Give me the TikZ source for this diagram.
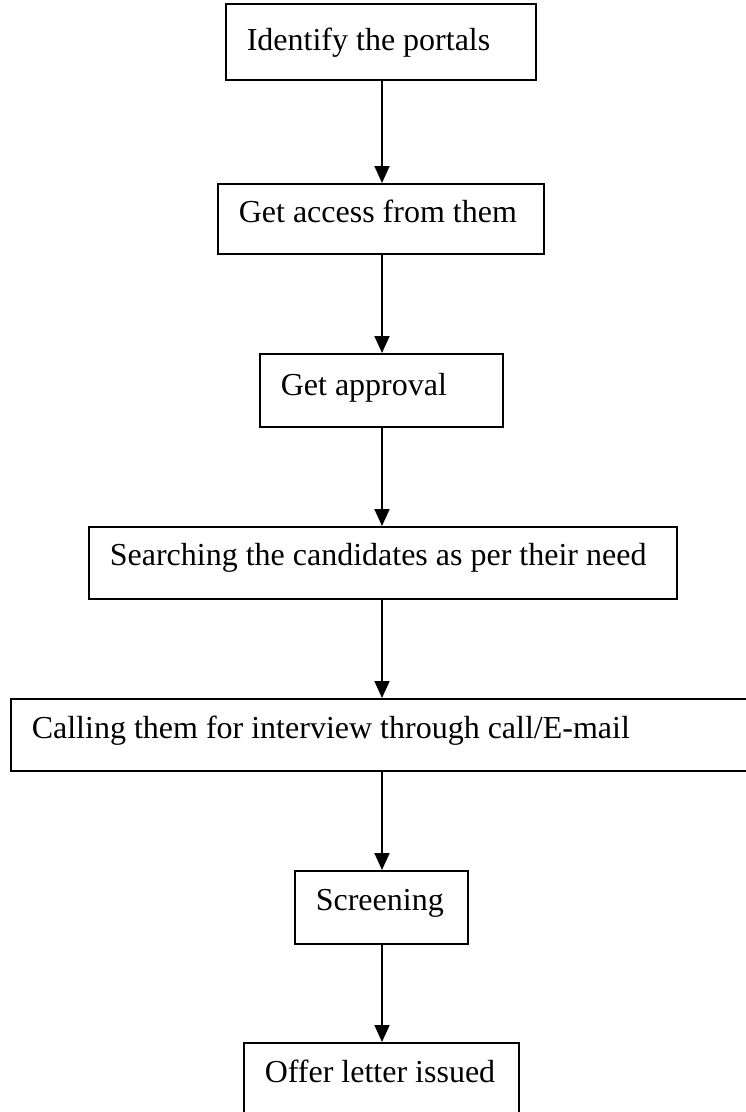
\documentclass[tikz,border=0pt]{standalone}
\usepackage{fontspec}
\setmainfont{Liberation Serif}
\usetikzlibrary{arrows.meta}
% one line of text, left-aligned in a box of the given width
\newcommand{\steptext}[2]{\makebox[#1][l]{#2}}
\begin{document}
\begin{tikzpicture}[x=1pt,y=-1pt,
  stepbox/.style={draw, line width=1.6pt, anchor=north west,
    inner xsep=21pt, inner ysep=0pt,
    font=\fontsize{32}{38}\selectfont},
  flow/.style={line width=1.8pt, -{Triangle[length=17pt,width=15pt]}}]
  \useasboundingbox (0,0) rectangle (745,1112);

  % vertical axis that all connectors follow
  \coordinate (axis) at (382,0);

  % process steps, top to bottom
  \node[stepbox, text height=47pt, text depth=29pt] (b1) at (225,3) {\steptext{268pt}{Identify the portals}};
  \node[stepbox, text height=39pt, text depth=31pt] (b2) at (217,183) {\steptext{284pt}{Get access from them}};
  \node[stepbox, text height=42pt, text depth=31pt] (b3) at (259,353) {\steptext{201pt}{Get approval}};
  \node[stepbox, text height=39pt, text depth=33pt] (b4) at (88,526) {\steptext{546pt}{Searching the candidates as per their need}};
  \node[stepbox, text height=40pt, text depth=32pt] (b5) at (10,698) {\steptext{698pt}{Calling them for interview through call/E-mail}};
  \node[stepbox, text height=40pt, text depth=33pt] (b6) at (294,870) {\steptext{131pt}{Screening}};
  \node[stepbox, text height=40pt, text depth=33pt] (b7) at (243,1042) {\steptext{233pt}{Offer letter issued}};

  % connectors
  \draw[flow] (b1.south -| axis) -- (b2.north -| axis);
  \draw[flow] (b2.south -| axis) -- (b3.north -| axis);
  \draw[flow] (b3.south -| axis) -- (b4.north -| axis);
  \draw[flow] (b4.south -| axis) -- (b5.north -| axis);
  \draw[flow] (b5.south -| axis) -- (b6.north -| axis);
  \draw[flow] (b6.south -| axis) -- (b7.north -| axis);
\end{tikzpicture}
\end{document}
